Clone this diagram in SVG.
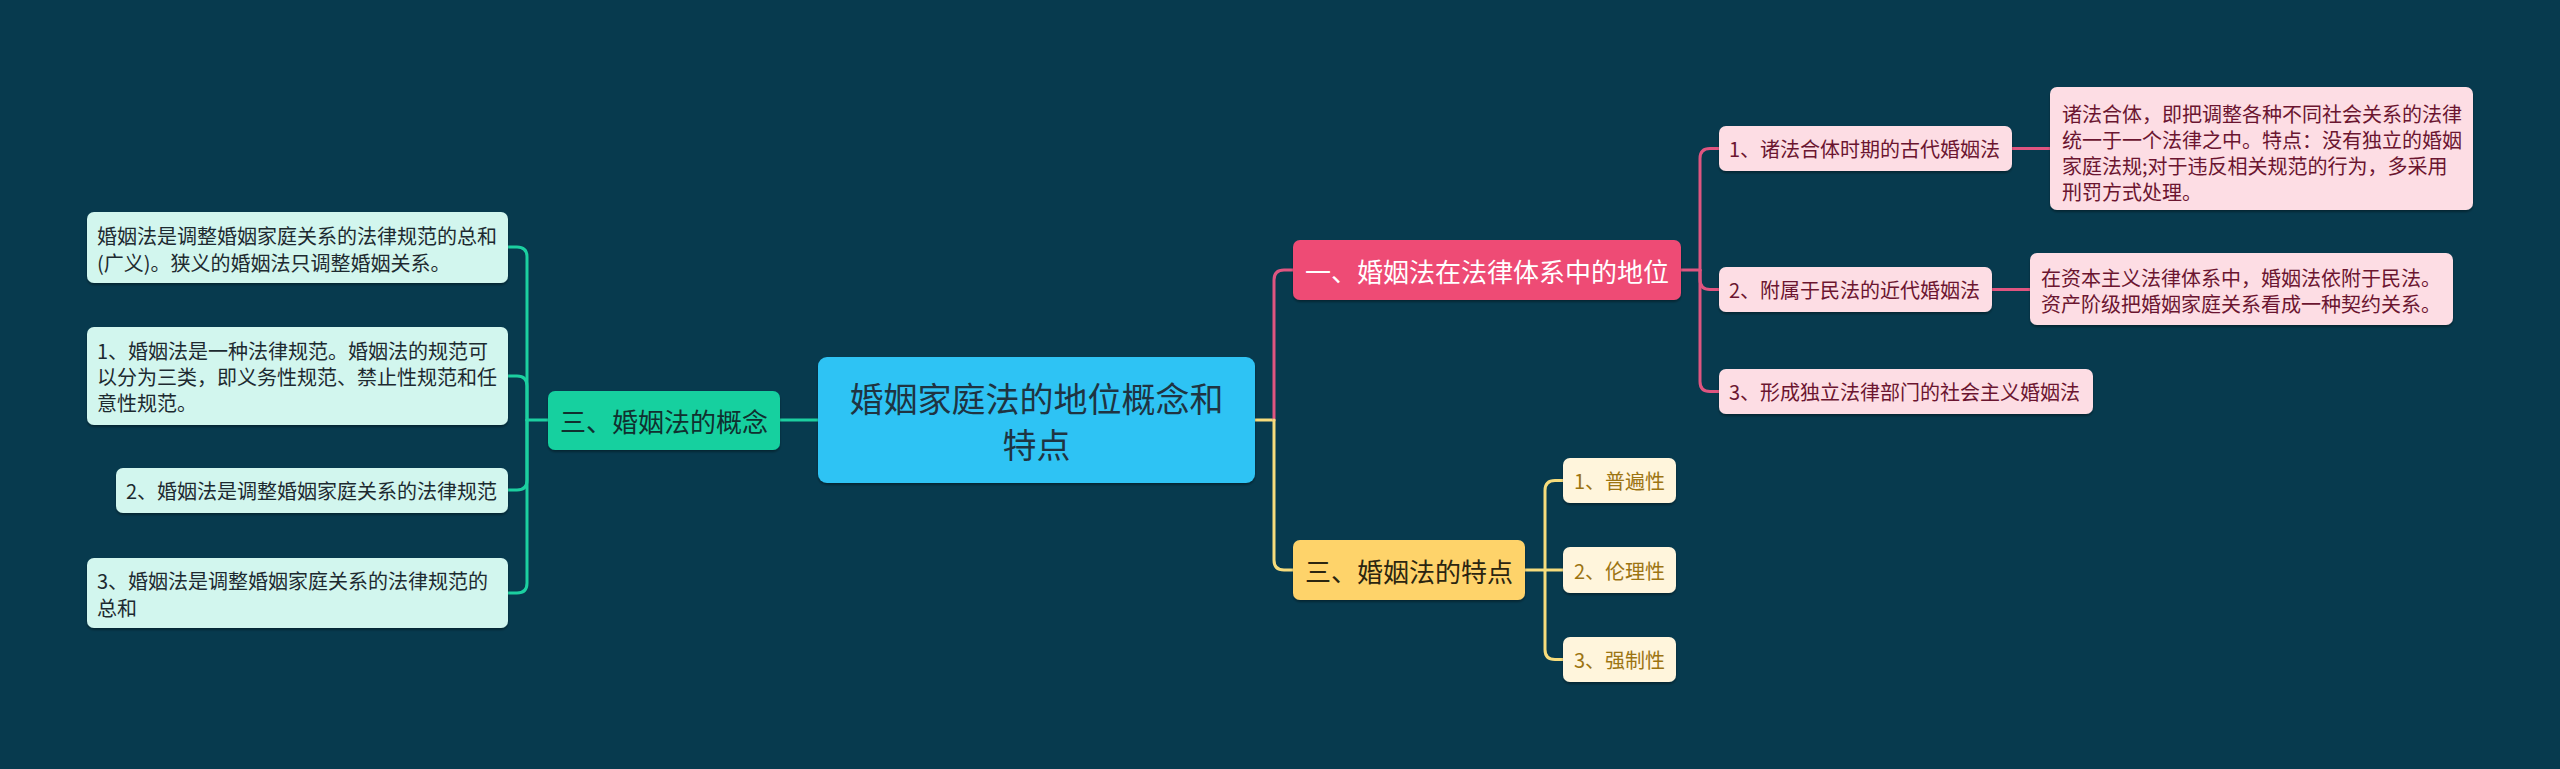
<svg xmlns="http://www.w3.org/2000/svg" width="2560" height="769" viewBox="0 0 2560 769">
<defs>
<filter id="sh" x="-5%" y="-10%" width="110%" height="130%">
<feDropShadow dx="0" dy="2" stdDeviation="1.2" flood-color="#000" flood-opacity="0.35"/>
</filter>
<style>
text{font-family:"Noto Sans CJK SC","Noto Sans",sans-serif;dominant-baseline:central}
.c{fill:none;stroke-width:3;stroke-linecap:round;stroke-linejoin:round}
.g{stroke:#1ccfa0}.p{stroke:#df5580}.y{stroke:#f6dc7c}
.bx{filter:url(#sh)}
.gc{fill:#d2f6ee}.pc{fill:#fddde4}.yc{fill:#fff5dc}
.t20{font-size:20px}
.tg{fill:#1d2a30}.tp{fill:#6b1530}.ty{fill:#9c7412}
</style>
</defs>
<rect x="0" y="0" width="2560" height="769" fill="#073a4e"/>

<g id="connectors">
<path class="c g" d="M818 420H780"/>
<path class="c g" d="M548 420H527"/>
<path class="c g" d="M527 420V257Q527 247 517 247H508"/>
<path class="c g" d="M527 420V386Q527 376 517 376H508"/>
<path class="c g" d="M527 420V480Q527 490 517 490H508"/>
<path class="c g" d="M527 420V583Q527 593 517 593H508"/>
<path class="c y" d="M1255 420H1274"/>
<path class="c p" d="M1274 420V280Q1274 270 1284 270H1293"/>
<path class="c y" d="M1274 420V560Q1274 570 1284 570H1293"/>
<path class="c p" d="M1681 270H1700"/>
<path class="c p" d="M1700 270V158.5Q1700 148.5 1710 148.5H1719"/>
<path class="c p" d="M1700 270V279.5Q1700 289.5 1710 289.5H1719"/>
<path class="c p" d="M1700 270V381.5Q1700 391.5 1710 391.5H1719"/>
<path class="c p" d="M2012 148.5H2050"/>
<path class="c p" d="M1992 289.5H2030"/>
<path class="c y" d="M1525 570H1545"/>
<path class="c y" d="M1545 570V490.5Q1545 480.5 1555 480.5H1563"/>
<path class="c y" d="M1545 570H1563"/>
<path class="c y" d="M1545 570V649.5Q1545 659.5 1555 659.5H1563"/>
</g>

<g id="root">
<rect class="bx" x="818" y="357" width="437" height="126" rx="9" fill="#2ec3f4"/>
<text x="1036.5" y="397" font-size="34" text-anchor="middle" fill="#1f3442">婚姻家庭法的地位概念和</text>
<text x="1036.5" y="443" font-size="34" text-anchor="middle" fill="#1f3442">特点</text>
</g>

<g id="n-concept">
<rect class="bx" x="548" y="391" width="232" height="59" rx="7" fill="#13d09f"/>
<text x="664" y="420" font-size="26" text-anchor="middle" fill="#10302f">三、婚姻法的概念</text>
</g>
<g id="n-concept-a">
<rect class="bx gc" x="87" y="212" width="421" height="71" rx="7"/>
<text class="t20 tg" x="97" y="235">婚姻法是调整婚姻家庭关系的法律规范的总和</text>
<text class="t20 tg" x="97" y="262">(广义)。狭义的婚姻法只调整婚姻关系。</text>
</g>
<g id="n-concept-1">
<rect class="bx gc" x="87" y="327" width="421" height="98" rx="7"/>
<text class="t20 tg" x="97" y="350">1、婚姻法是一种法律规范。婚姻法的规范可</text>
<text class="t20 tg" x="97" y="376">以分为三类，即义务性规范、禁止性规范和任</text>
<text class="t20 tg" x="97" y="402">意性规范。</text>
</g>
<g id="n-concept-2">
<rect class="bx gc" x="116" y="468" width="392" height="45" rx="7"/>
<text class="t20 tg" x="126" y="490">2、婚姻法是调整婚姻家庭关系的法律规范</text>
</g>
<g id="n-concept-3">
<rect class="bx gc" x="87" y="558" width="421" height="70" rx="7"/>
<text class="t20 tg" x="97" y="580">3、婚姻法是调整婚姻家庭关系的法律规范的</text>
<text class="t20 tg" x="97" y="607">总和</text>
</g>

<g id="n-status">
<rect class="bx" x="1293" y="240" width="388" height="60" rx="7" fill="#ee4b75"/>
<text x="1487" y="270" font-size="26" text-anchor="middle" fill="#ffffff">一、婚姻法在法律体系中的地位</text>
</g>
<g id="n-status-1">
<rect class="bx pc" x="1719" y="126" width="293" height="45" rx="7"/>
<text class="t20 tp" x="1729" y="148.5">1、诸法合体时期的古代婚姻法</text>
</g>
<g id="n-status-1-d">
<rect class="bx pc" x="2050" y="87" width="423" height="123" rx="7"/>
<text class="t20 tp" x="2062" y="113">诸法合体，即把调整各种不同社会关系的法律</text>
<text class="t20 tp" x="2062" y="139">统一于一个法律之中。特点：没有独立的婚姻</text>
<text class="t20 tp" x="2062" y="165">家庭法规;对于违反相关规范的行为，多采用</text>
<text class="t20 tp" x="2062" y="191">刑罚方式处理。</text>
</g>
<g id="n-status-2">
<rect class="bx pc" x="1719" y="267" width="273" height="45" rx="7"/>
<text class="t20 tp" x="1729" y="289.5">2、附属于民法的近代婚姻法</text>
</g>
<g id="n-status-2-d">
<rect class="bx pc" x="2030" y="253" width="423" height="72" rx="7"/>
<text class="t20 tp" x="2041" y="277">在资本主义法律体系中，婚姻法依附于民法。</text>
<text class="t20 tp" x="2041" y="303">资产阶级把婚姻家庭关系看成一种契约关系。</text>
</g>
<g id="n-status-3">
<rect class="bx pc" x="1719" y="369" width="374" height="45" rx="7"/>
<text class="t20 tp" x="1729" y="391.5">3、形成独立法律部门的社会主义婚姻法</text>
</g>

<g id="n-features">
<rect class="bx" x="1293" y="540" width="232" height="60" rx="7" fill="#fed36b"/>
<text x="1409" y="570" font-size="26" text-anchor="middle" fill="#2b2510">三、婚姻法的特点</text>
</g>
<g id="n-features-1">
<rect class="bx yc" x="1563" y="458" width="113" height="45" rx="7"/>
<text class="t20 ty" x="1619.5" y="480.5" text-anchor="middle">1、普遍性</text>
</g>
<g id="n-features-2">
<rect class="bx yc" x="1563" y="547" width="113" height="46" rx="7"/>
<text class="t20 ty" x="1619.5" y="570" text-anchor="middle">2、伦理性</text>
</g>
<g id="n-features-3">
<rect class="bx yc" x="1563" y="637" width="113" height="45" rx="7"/>
<text class="t20 ty" x="1619.5" y="659.5" text-anchor="middle">3、强制性</text>
</g>
</svg>
